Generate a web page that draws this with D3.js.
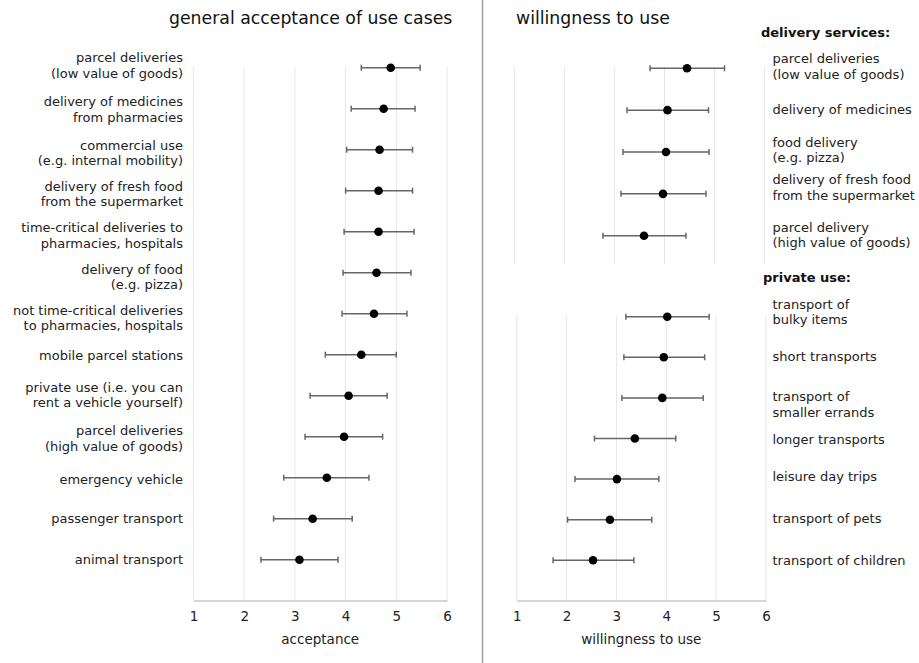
<!DOCTYPE html>
<html>
<head>
<meta charset="utf-8">
<script src="https://cdn.jsdelivr.net/npm/d3@7"></script>
<style>
  body { margin: 0; background: #fff; }
  svg { display: block; font-family: "DejaVu Sans", Verdana, sans-serif; }
</style>
</head>
<body>
<svg id="chart" width="919" height="663"></svg>
<script>
// general acceptance of use cases (mean, lower, upper)
var acceptLabels = [
    ["parcel deliveries", "(low value of goods)"],
    ["delivery of medicines", "from pharmacies"],
    ["commercial use", "(e.g. internal mobility)"],
    ["delivery of fresh food", "from the supermarket"],
    ["time-critical deliveries to", "pharmacies, hospitals"],
    ["delivery of food", "(e.g. pizza)"],
    ["not time-critical deliveries", "to pharmacies, hospitals"],
    ["mobile parcel stations"],
    ["private use (i.e. you can", "rent a vehicle yourself)"],
    ["parcel deliveries", "(high value of goods)"],
    ["emergency vehicle"],
    ["passenger transport"],
    ["animal transport"]
];
var acceptMean = [4.89, 4.75, 4.67, 4.65, 4.65, 4.61, 4.56, 4.31, 4.06, 3.97, 3.63, 3.35, 3.09];
var acceptLow  = [4.31, 4.11, 4.02, 4.00, 3.97, 3.95, 3.93, 3.60, 3.30, 3.20, 2.78, 2.58, 2.33];
var acceptHigh = [5.47, 5.37, 5.32, 5.32, 5.35, 5.29, 5.21, 5.00, 4.82, 4.73, 4.46, 4.13, 3.85];

// willingness to use: delivery services
var deliveryLabels = [
    ["parcel deliveries", "(low value of goods)"],
    ["delivery of medicines"],
    ["food delivery", "(e.g. pizza)"],
    ["delivery of fresh food", "from the supermarket"],
    ["parcel delivery", "(high value of goods)"]
];
var deliveryMean = [4.45, 4.06, 4.03, 3.97, 3.59];
var deliveryLow  = [3.71, 3.25, 3.17, 3.13, 2.77];
var deliveryHigh = [5.20, 4.88, 4.89, 4.83, 4.43];

// willingness to use: private use
var privateLabels = [
    ["transport of", "bulky items"],
    ["short transports"],
    ["transport of", "smaller errands"],
    ["longer transports"],
    ["leisure day trips"],
    ["transport of pets"],
    ["transport of children"]
];
var privateMean = [4.02, 3.95, 3.92, 3.37, 3.01, 2.87, 2.53];
var privateLow  = [3.19, 3.15, 3.11, 2.56, 2.17, 2.02, 1.73];
var privateHigh = [4.86, 4.77, 4.74, 4.19, 3.85, 3.71, 3.35];

var xTicks = [1, 2, 3, 4, 5, 6];

var svg = d3.select("#chart");

function rowsOf(labels, mean, low, high) {
    return labels.map(function (l, i) {
        return { key: "r" + i, label: l, mean: mean[i], low: low[i], high: high[i], idx: i };
    });
}

// draws one dot-and-whisker panel
function panel(opts) {
    var rows = rowsOf(opts.labels, opts.mean, opts.low, opts.high);
    var x = d3.scaleLinear().domain([1, 6]).range(opts.xRange);
    var y = d3.scalePoint().domain(rows.map(function (d) { return d.key; })).range(opts.yRange);

    var g = svg.append("g");

    // grid
    g.selectAll("line.grid")
        .data(xTicks).enter()
        .append("line")
        .attr("class", "grid")
        .attr("x1", function (d) { return x(d); })
        .attr("x2", function (d) { return x(d); })
        .attr("y1", opts.gridTop)
        .attr("y2", opts.gridBottom)
        .attr("stroke", "#e6e6e6")
        .attr("stroke-width", 1);

    if (opts.axis) {
        var axis = g.append("g")
            .attr("transform", "translate(0," + opts.gridBottom + ")")
            .call(d3.axisBottom(x).tickValues(xTicks).tickSize(0).tickPadding(11).tickFormat(d3.format("d")));
        axis.select(".domain").attr("stroke", "#c8c8c8").attr("stroke-width", 1.5);
        axis.selectAll("text").attr("font-size", 13.5).attr("fill", "#222")
            .attr("font-family", "'DejaVu Sans', Verdana, sans-serif");
        g.append("text")
            .attr("x", (opts.xRange[0] + opts.xRange[1]) / 2)
            .attr("y", opts.gridBottom + 43)
            .attr("text-anchor", "middle")
            .attr("font-size", 13.5)
            .attr("fill", "#222")
            .text(opts.axisTitle);
    }

    var row = g.selectAll("g.row")
        .data(rows).enter()
        .append("g")
        .attr("class", "row")
        .attr("transform", function (d) { return "translate(0," + y(d.key) + ")"; });

    row.append("line")
        .attr("x1", function (d) { return x(d.low); })
        .attr("x2", function (d) { return x(d.high); })
        .attr("stroke", "#666")
        .attr("stroke-width", 1.5);

    row.selectAll("line.cap")
        .data(function (d) { return [d.low, d.high]; }).enter()
        .append("line")
        .attr("class", "cap")
        .attr("x1", function (v) { return x(v); })
        .attr("x2", function (v) { return x(v); })
        .attr("y1", -3)
        .attr("y2", 3)
        .attr("stroke", "#666")
        .attr("stroke-width", 1.5);

    row.append("circle")
        .attr("cx", function (d) { return x(d.mean); })
        .attr("r", 4.3)
        .attr("fill", "#000");

    // labels were placed by hand in the original, so each gets its own baseline offset
    var text = row.append("text")
        .attr("x", opts.labelX)
        .attr("text-anchor", opts.labelAnchor)
        .attr("font-size", 13)
        .attr("fill", "#222");
    text.selectAll("tspan")
        .data(function (d) {
            var first = opts.labelDy[d.idx];
            return d.label.map(function (t, i) { return { t: t, dy: first + i * 15.7 }; });
        }).enter()
        .append("tspan")
        .attr("x", opts.labelX)
        .attr("y", function (d) { return d.dy; })
        .text(function (d) { return d.t; });
}

// titles
svg.append("text").attr("x", 169).attr("y", 24).attr("font-size", 17.3).attr("fill", "#111")
    .text("general acceptance of use cases");
svg.append("text").attr("x", 516).attr("y", 24).attr("font-size", 17.3).attr("fill", "#111")
    .text("willingness to use");

// separator
svg.append("line").attr("x1", 482.5).attr("x2", 482.5).attr("y1", 0).attr("y2", 663)
    .attr("stroke", "#a0a0a0").attr("stroke-width", 1.5);

panel({
    labels: acceptLabels, mean: acceptMean, low: acceptLow, high: acceptHigh,
    xRange: [193.5, 447], yRange: [67.7, 559.7], gridTop: 67, gridBottom: 600.5,
    labelX: 183, labelAnchor: "end", axis: true, axisTitle: "acceptance",
    labelDy: [-5.4, -2.3, 0, 0, 0.6, 0.8, 1, 5, -4, -1.7, 6, 4, 4]
});

panel({
    labels: deliveryLabels, mean: deliveryMean, low: deliveryLow, high: deliveryHigh,
    xRange: [514.5, 764.5], yRange: [68.3, 235.7], gridTop: 67.5, gridBottom: 264.5,
    labelX: 772.5, labelAnchor: "start", axis: false,
    labelDy: [-5, 4.3, -5.3, -9.7, -4]
});

panel({
    labels: privateLabels, mean: privateMean, low: privateLow, high: privateHigh,
    xRange: [516.7, 766], yRange: [316.7, 560.3], gridTop: 316, gridBottom: 600.5,
    labelX: 772.5, labelAnchor: "start", axis: true, axisTitle: "willingness to use",
    labelDy: [-8, 3.3, 3, 5, 1.7, 3.3, 5]
});

// group headings
svg.append("text").attr("x", 761).attr("y", 37).attr("font-size", 13).attr("font-weight", "bold")
    .attr("fill", "#111").text("delivery services:");
svg.append("text").attr("x", 763).attr("y", 282).attr("font-size", 13).attr("font-weight", "bold")
    .attr("fill", "#111").text("private use:");
</script>
</body>
</html>
